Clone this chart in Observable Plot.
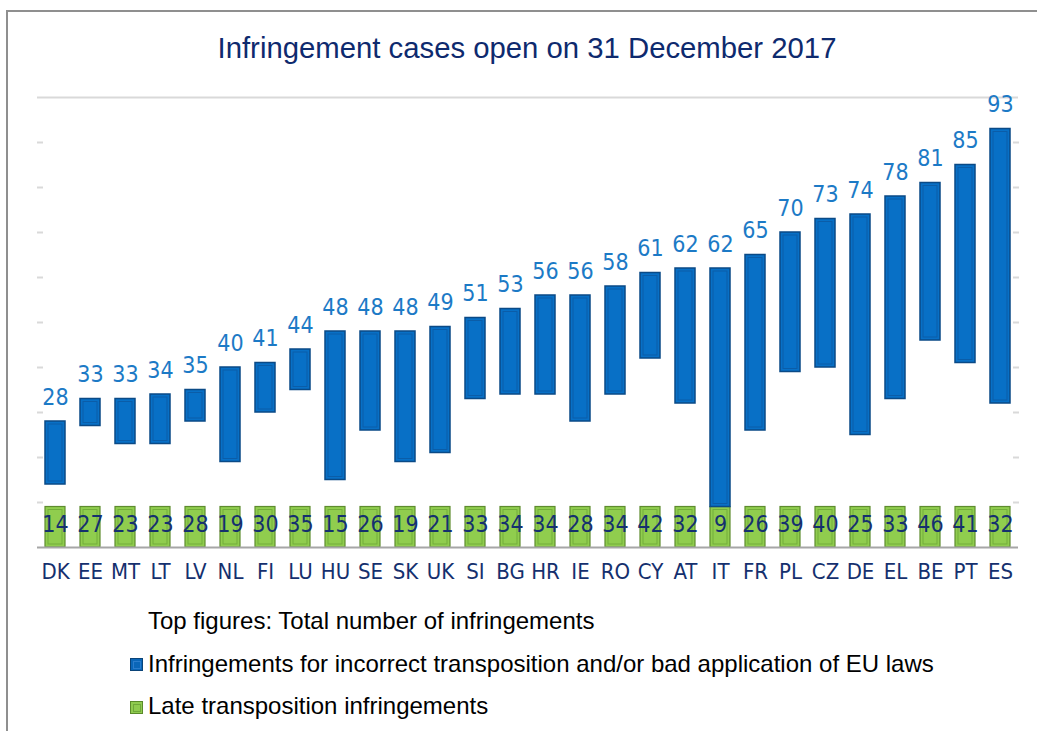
<!DOCTYPE html>
<html>
<head>
<meta charset="utf-8">
<script src="https://cdn.jsdelivr.net/npm/d3@7"></script>
<script src="https://cdn.jsdelivr.net/npm/@observablehq/plot@0.6"></script>
<style>
  body { margin: 0; background: #fff; }
  #page { position: relative; width: 1037px; height: 731px; overflow: hidden; background: #fff; }
  #frame { position: absolute; left: 6px; top: 10px; width: 1200px; height: 900px;
           border-left: 2px solid #8f8f8f; border-top: 2px solid #8f8f8f; }
  #title { position: absolute; left: 0; width: 1054px; top: 31px; text-align: center;
           font-family: "Liberation Sans", Arial, sans-serif; font-size: 29.3px; color: #0e2a6e; white-space: nowrap; }
  #chart { position: absolute; left: 0; top: 60px; }
  .leg { position: absolute; left: 148px; font-family: "Liberation Sans", Arial, sans-serif;
         font-size: 24px; color: #000; white-space: nowrap; line-height: normal; }
  .sw { position: absolute; left: 130px; width: 11px; height: 11px; box-sizing: content-box; }
  .sw i { position: absolute; left: 2px; top: 2px; width: 6px; height: 6px; border: 1px solid; }
</style>
</head>
<body>
<div id="page">
  <div id="frame"></div>
  <div id="title">Infringement cases open on 31 December 2017</div>
  <div id="chart"></div>
  <div class="leg" style="top:607px">Top figures: Total number of infringements</div>
  <div class="sw" style="top:658px;background:#0a66b8;border:1px solid #0a4378"><i style="border-color:#2a7ccc"></i></div>
  <div class="leg" style="top:650px">Infringements for incorrect transposition and/or bad application of EU laws</div>
  <div class="sw" style="top:701px;background:#8fcb4f;border:1px solid #5a8a2a"><i style="border-color:#6fa83a"></i></div>
  <div class="leg" style="top:692px">Late transposition infringements</div>
</div>
<script>
const countries = ["DK","EE","MT","LT","LV","NL","FI","LU","HU","SE","SK","UK","SI","BG","HR","IE","RO","CY","AT","IT","FR","PL","CZ","DE","EL","BE","PT","ES"];
const totals = [28,33,33,34,35,40,41,44,48,48,48,49,51,53,56,56,58,61,62,62,65,70,73,74,78,81,85,93];
const lateTransposition = [14,27,23,23,28,19,30,35,15,26,19,21,33,34,34,28,34,42,32,9,26,39,40,25,33,46,41,32];
const gridTicks = [10,20,30,40,50,60,70,80,90];

const rows = countries.map((c, i) => ({country: c, total: totals[i], late: lateTransposition[i]}));
const boxTop = 9; // height of the green label boxes (axis units)

const font = "'DejaVu Sans Condensed', 'DejaVu Sans', Tahoma, sans-serif";
const chart = Plot.plot({
  width: 1037,
  height: 540,
  marginTop: 37,
  marginBottom: 53,
  marginLeft: 43,
  marginRight: 25,
  x: {domain: countries, range: [35.5, 1019.5], paddingInner: 0.43, paddingOuter: 0.215},
  y: {domain: [0, 100]},
  style: {background: "transparent", overflow: "visible"},
  marks: [
    Plot.ruleY([100], {stroke: "#d9d9d9", strokeWidth: 2, insetLeft: -6, insetRight: -6}),
    Plot.axisY({anchor: "left", ticks: gridTicks, tickSize: 6, tickFormat: () => "", label: null, stroke: "#d9d9d9", strokeWidth: 2}),
    Plot.axisY({anchor: "right", ticks: gridTicks, tickSize: 6, tickFormat: () => "", label: null, stroke: "#d9d9d9", strokeWidth: 2}),
    Plot.barY(rows, {x: "country", y1: 0, y2: boxTop, fill: "#90cd4e", stroke: "#5e8c2e", strokeWidth: 1.2}),
    Plot.barY(rows, {x: "country", y1: 0, y2: boxTop, fill: "none", stroke: "#72ad3a", strokeWidth: 1, inset: 3}),
    Plot.barY(rows, {x: "country", y1: "late", y2: "total", fill: "#0870c6", stroke: "#0a4a86", strokeWidth: 1.5}),
    Plot.barY(rows, {x: "country", y1: "late", y2: "total", fill: "none", stroke: "#0b5da8", strokeWidth: 1, inset: 3}),
    Plot.ruleY([0], {stroke: "#a6a6a6", strokeWidth: 2, insetLeft: -6, insetRight: -6}),
    Plot.text(rows, {x: "country", y: "total", text: d => String(d.total), dy: -24, lineAnchor: "middle",
                     fill: "#1c7ac6", fontSize: 23, fontFamily: font}),
    Plot.text(rows, {x: "country", y: boxTop / 2, text: d => String(d.late), dy: -3, lineAnchor: "middle",
                     fill: "#15306e", fontSize: 23, fontFamily: font}),
    Plot.axisX({tickSize: 0, tickPadding: 16, label: null, fontSize: 22, fontFamily: font, fill: "#15306e"})
  ]
});
document.getElementById("chart").appendChild(chart);
</script>
</body>
</html>
